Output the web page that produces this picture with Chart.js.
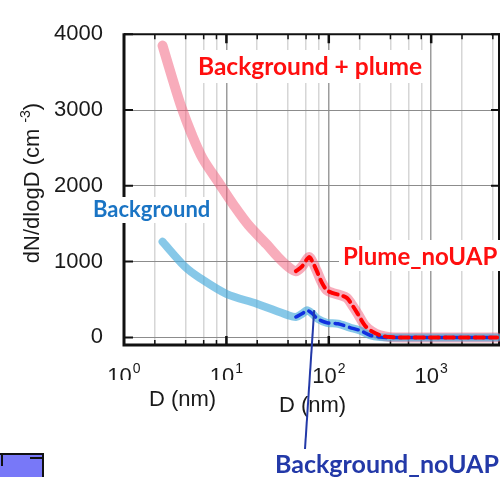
<!DOCTYPE html>
<html>
<head>
  <meta charset="UTF-8" />
  <title>dN/dlogD size distribution</title>
  <script src="https://cdn.jsdelivr.net/npm/chart.js"></script>
  <style>
    html, body { margin: 0; padding: 0; background: #fff; }
    canvas { display: block; }
  </style>
</head>
<body>
  <canvas id="chart" width="502" height="477"></canvas>
  <script>
    // diameter (nm) and dN/dlogD (cm-3) for each curve
    const plumeD = [2.38, 2.98, 3.65, 4.58, 5.86, 8.6, 12, 16.5, 24.8, 31.8, 39.8, 47.7, 54.5, 64, 68.4, 76.5, 85.6, 95.9, 110, 128, 150, 168, 193, 226, 264, 316, 396, 600, 1000, 2000, 4400];
    const plumeN = [3850, 3408, 3030, 2680, 2362, 2022, 1730, 1479, 1227, 1063, 937, 874, 933, 1059, 1013, 874, 723, 622, 584, 559, 521, 433, 306, 155, 79, 29, 4, 0, 0, 0, 0];
    const bgD = [2.38, 3.91, 5.48, 10.1, 19.8, 39.8, 47.7, 55.8, 61.1, 68.4, 78.2, 95.9, 123, 161, 202, 253, 316, 400, 600, 1000, 2000, 4400];
    const bgN = [1262, 937, 786, 571, 445, 294, 269, 319, 357, 319, 243, 193, 180, 130, 92, 29, 4, 0, 0, 0, 0, 0];
    // the noUAP (dashed) part starts at these points
    const plumeDashFrom = 11;
    const bgDashFrom = 6;

    const xGrid = [2, 4, 6, 8, 10, 20, 40, 60, 80, 100, 200, 400, 600, 800, 1000, 2000, 4000];
    const xDecades = [1, 10, 100, 1000];
    const yTicks = [0, 1000, 2000, 3000, 4000];

    const notes = [
      { text: 'Background + plume', color: '#ff0f0f', size: 24.5, x: 198, y: 75, box: [192, 50, 238, 33] },
      { text: 'Background', color: '#1a74c4', size: 22, x: 93, y: 217, box: [88, 197, 124, 26] },
      { text: 'Plume_noUAP', color: '#ff0f0f', size: 24, x: 343, y: 265, box: [339, 240, 163, 31] },
      { text: 'Background_noUAP', color: '#2339a8', size: 25, x: 275, y: 473 }
    ];

    const pts = (xs, ys, from) => xs.slice(from).map((x, i) => ({ x: x, y: ys[i + from] }));
    const isDecade = v => xDecades.includes(v);
    const AXIS_FONT = '"Liberation Sans", Arial, sans-serif';

    // frame and tick marks, drawn under the curves
    const framePlugin = {
      id: 'frame',
      beforeDatasetsDraw(chart) {
        const { ctx, chartArea: a, scales } = chart;
        ctx.save();
        ctx.strokeStyle = '#111';
        xGrid.forEach(v => {
          const x = scales.x.getPixelForValue(v);
          const len = isDecade(v) ? 9 : 5;
          ctx.lineWidth = isDecade(v) ? 2.5 : 1.5;
          ctx.beginPath();
          ctx.moveTo(x, a.top); ctx.lineTo(x, a.top + len);
          ctx.moveTo(x, a.bottom); ctx.lineTo(x, a.bottom - len);
          ctx.stroke();
        });
        ctx.lineWidth = 2;
        yTicks.forEach(v => {
          const y = scales.y.getPixelForValue(v);
          ctx.beginPath();
          ctx.moveTo(a.left, y); ctx.lineTo(a.left + 9, y);
          ctx.moveTo(a.right, y); ctx.lineTo(a.right - 9, y);
          ctx.stroke();
        });
        ctx.beginPath();
        ctx.moveTo(a.left, a.top); ctx.lineTo(a.right - 1, a.top); ctx.lineTo(a.right - 1, a.bottom);
        ctx.stroke();
        ctx.lineWidth = 3;
        ctx.beginPath();
        ctx.moveTo(a.left, a.top - 1); ctx.lineTo(a.left, a.bottom); ctx.lineTo(a.right, a.bottom);
        ctx.stroke();
        ctx.restore();
      },
      afterDraw(chart) {
        const { ctx, scales } = chart;
        ctx.save();

        // x decade labels 10^n
        xDecades.forEach((v, n) => {
          const x = scales.x.getPixelForValue(v);
          ctx.font = '22px ' + AXIS_FONT;
          const w1 = ctx.measureText('10').width;
          ctx.font = '14px ' + AXIS_FONT;
          const w2 = ctx.measureText(String(n)).width;
          const left = x - (w1 + 1 + w2) / 2;
          ctx.fillStyle = '#1a1a1a';
          ctx.textBaseline = 'alphabetic';
          ctx.textAlign = 'left';
          ctx.font = '22px ' + AXIS_FONT;
          ctx.fillText('10', left, 383);
          ctx.font = '14px ' + AXIS_FONT;
          ctx.fillText(String(n), left + w1 + 1, 373);
        });
        // lower edge of the first two labels is cut off
        ctx.fillStyle = '#fff';
        ctx.fillRect(95, 380, 170, 8);

        // axis titles
        ctx.fillStyle = '#1a1a1a';
        ctx.font = '22px ' + AXIS_FONT;
        ctx.textAlign = 'center';
        ctx.fillText('D (nm)', 182.5, 406);
        ctx.fillText('D (nm)', 312.5, 412);

        ctx.translate(39, 183);
        ctx.rotate(-Math.PI / 2);
        ctx.textAlign = 'left';
        const main = 'dN/dlogD (cm ', sup = '-3', close = ')';
        ctx.font = '22px ' + AXIS_FONT;
        const wm = ctx.measureText(main).width, wc = ctx.measureText(close).width;
        ctx.font = '14px ' + AXIS_FONT;
        const ws = ctx.measureText(sup).width;
        const tx = -(wm + ws + wc) / 2;
        ctx.font = '22px ' + AXIS_FONT;
        ctx.fillText(main, tx, 0);
        ctx.font = '14px ' + AXIS_FONT;
        ctx.fillText(sup, tx + wm, -9);
        ctx.font = '22px ' + AXIS_FONT;
        ctx.fillText(close, tx + wm + ws, 0);
        ctx.setTransform(1, 0, 0, 1, 0, 0);

        // text labels on white boxes
        notes.forEach(n => {
          if (n.box) {
            ctx.fillStyle = '#fff';
            ctx.fillRect(n.box[0], n.box[1], n.box[2], n.box[3]);
          }
          ctx.fillStyle = n.color;
          ctx.font = 'bold ' + n.size + 'px Lato, "Open Sans", sans-serif';
          ctx.textAlign = 'left';
          ctx.textBaseline = 'alphabetic';
          ctx.fillText(n.text, n.x, n.y);
        });

        // pointer from the Background_noUAP label up to its peak
        ctx.strokeStyle = '#2339a8';
        ctx.lineWidth = 2;
        ctx.beginPath();
        ctx.moveTo(scales.x.getPixelForValue(72), scales.y.getPixelForValue(360));
        ctx.lineTo(305, 449);
        ctx.stroke();

        // corner of the next panel, bottom left
        ctx.fillStyle = '#7878f8';
        ctx.fillRect(0, 454, 43, 23);
        ctx.strokeStyle = '#111';
        ctx.lineWidth = 2;
        ctx.beginPath();
        ctx.moveTo(0, 454); ctx.lineTo(43, 454); ctx.lineTo(43, 477);
        ctx.moveTo(2, 455); ctx.lineTo(2, 466);
        ctx.moveTo(30, 458); ctx.lineTo(43, 458);
        ctx.stroke();
        ctx.restore();
      }
    };

    const ctx = document.getElementById('chart').getContext('2d');
    new Chart(ctx, {
      type: 'line',
      data: {
        datasets: [
          {
            label: 'Plume_noUAP', data: pts(plumeD, plumeN, plumeDashFrom),
            borderColor: '#ff0000', borderWidth: 4, borderDash: [9, 6], order: 0
          },
          {
            label: 'Background_noUAP', data: pts(bgD, bgN, bgDashFrom),
            borderColor: '#1030e0', borderWidth: 3.5, borderDash: [9, 6], order: 1
          },
          {
            label: 'Background + plume', data: pts(plumeD, plumeN, 0),
            borderColor: 'rgba(242, 90, 120, 0.5)', borderWidth: 10, order: 3
          },
          {
            label: 'Background', data: pts(bgD, bgN, 0),
            borderColor: 'rgba(70, 170, 220, 0.65)', borderWidth: 8, order: 2
          }
        ]
      },
      options: {
        responsive: false,
        animation: false,
        devicePixelRatio: 1,
        layout: { padding: { top: 19.5, right: 2, left: 0, bottom: 0 } },
        elements: {
          point: { radius: 0 },
          line: { tension: 0.3, borderCapStyle: 'round', borderJoinStyle: 'round', fill: false }
        },
        plugins: { legend: { display: false }, tooltip: { enabled: false } },
        scales: {
          x: {
            type: 'logarithmic', min: 1, max: 4700,
            afterBuildTicks: s => { s.ticks = xGrid.map(v => ({ value: v })); },
            afterFit: s => { s.height = 132; },
            ticks: { display: false },
            border: { display: false },
            grid: {
              drawTicks: false,
              lineWidth: 1.5,
              color: c => isDecade(c.tick.value) ? '#9c9c9c' : '#d6d6d6'
            }
          },
          y: {
            min: -100, max: 4000,
            afterBuildTicks: s => { s.ticks = yTicks.map(v => ({ value: v })); },
            afterFit: s => { s.width = 124; },
            ticks: {
              padding: 21, color: '#1a1a1a', font: { family: AXIS_FONT, size: 22 },
              callback: v => String(v)
            },
            border: { display: false },
            grid: { drawTicks: false, color: '#8c8c8c', lineWidth: 1 }
          }
        }
      },
      plugins: [framePlugin]
    });
  </script>
</body>
</html>
